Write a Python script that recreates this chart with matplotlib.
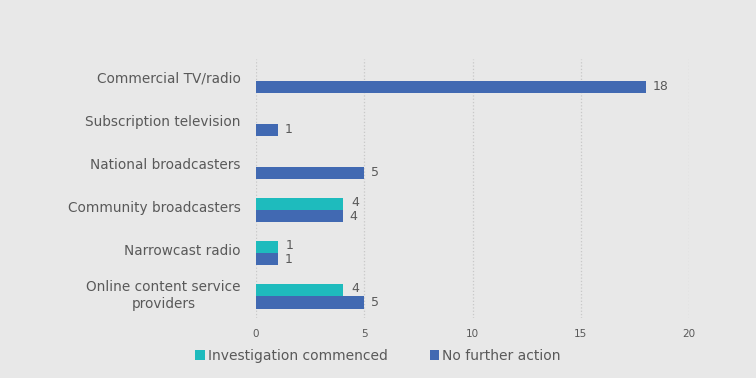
import matplotlib.pyplot as plt
import matplotlib.transforms as mtrans
import numpy as np

categories = ['Commercial TV/radio', 'Subscription television', 'National broadcasters',
              'Community broadcasters', 'Narrowcast radio', 'Online content service\nproviders']
investigation = [0, 0, 0, 4, 1, 4]
no_action = [18, 1, 5, 4, 1, 5]
xticks = [0, 5, 10, 15, 20]

bg = '#e8e8e8'
teal = '#1ebbbd'
blue = '#4169b2'
txt = '#595959'

fig = plt.figure(figsize=(7.56, 3.78), dpi=100, facecolor=bg)
ax = fig.add_axes([256/756, 1-318/378, (689-256)/756, (318-59)/378])
ax.set_facecolor(bg)

y = np.arange(len(categories))
h = 0.28

bars_inv = ax.barh(y - h/2, investigation, height=h, color=teal, label='Investigation commenced', zorder=3)
bars_no = ax.barh(y + h/2, no_action, height=h, color=blue, label='No further action', zorder=3)

for b, v in zip(bars_inv, investigation):
    if v > 0:
        ax.annotate(str(v), (v, b.get_y() + b.get_height()/2), xytext=(6, 1),
                    textcoords='offset points', va='center', ha='left', fontsize=9, color=txt)
for b, v in zip(bars_no, no_action):
    ax.annotate(str(v), (v, b.get_y() + b.get_height()/2), xytext=(5, 0),
                textcoords='offset points', va='center', ha='left', fontsize=9, color=txt)

ax.set_xlim(0, 20)
ax.set_ylim(len(categories) - 0.5, -0.5)
ax.set_xticks(xticks)
ax.set_yticks(y)
ax.set_yticklabels(categories, fontsize=9.8, color=txt, multialignment='center')
ax.tick_params(axis='y', length=0, pad=11)
ax.tick_params(axis='x', length=0, labelsize=7.5, labelcolor=txt, pad=8)
ax.grid(axis='x', linestyle=':', color='#c8c8c8', linewidth=0.9, zorder=0)
for s in ax.spines.values():
    s.set_visible(False)

# nudge category labels up a little
shift = mtrans.ScaledTranslation(0, 2.5/72, fig.dpi_scale_trans)
for lbl in ax.get_yticklabels():
    lbl.set_transform(lbl.get_transform() + shift)

leg = fig.legend(handles=[bars_inv, bars_no], loc='center', bbox_to_anchor=(0.5, 1-356/378),
                 ncol=2, frameon=False, fontsize=10, handlelength=0.7, handleheight=0.7,
                 handletextpad=0.2, columnspacing=3.0, labelcolor=txt)

plt.savefig('out.png', dpi=100, facecolor=bg)
